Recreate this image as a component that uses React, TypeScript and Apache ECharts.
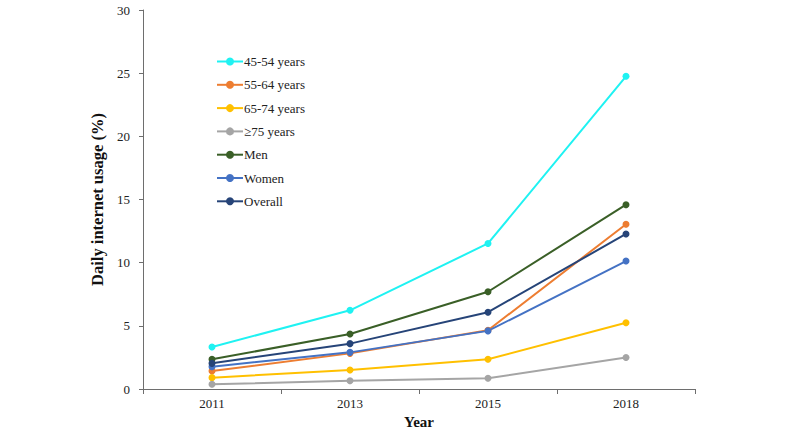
import React, { useEffect, useRef } from "react";
import * as echarts from "echarts";

const years = ["2011", "2013", "2015", "2018"];
const age4554 = [3.32, 6.23, 11.52, 24.75];
const age5564 = [1.42, 2.82, 4.65, 13.04];
const age6574 = [0.9, 1.5, 2.35, 5.25];
const age75 = [0.37, 0.66, 0.85, 2.5];
const men = [2.35, 4.35, 7.7, 14.59];
const women = [1.77, 2.9, 4.6, 10.13];
const overall = [2.03, 3.59, 6.08, 12.27];

const seriesDefs = [
  { name: "45-54 years", data: age4554, color: "#1FF2F2" },
  { name: "55-64 years", data: age5564, color: "#ED7D31" },
  { name: "65-74 years", data: age6574, color: "#FFC000" },
  { name: "≥75 years", data: age75, color: "#A5A5A5" },
  { name: "Men", data: men, color: "#3A5F27" },
  { name: "Women", data: women, color: "#4472C4" },
  { name: "Overall", data: overall, color: "#264478" },
];

const FONT = "'Liberation Serif', 'Times New Roman', serif";

export default function App() {
  const ref = useRef<HTMLDivElement>(null);
  useEffect(() => {
    if (!ref.current) return;
    const chart = echarts.init(ref.current, undefined, { renderer: "svg" });
    chart.setOption({
      animation: false,
      backgroundColor: "#ffffff",
      grid: { left: 143, top: 10, width: 552, height: 379 },
      legend: {
        orient: "vertical",
        left: 211,
        top: 50,
        itemWidth: 26,
        itemHeight: 10,
        itemGap: 10.3,
        textStyle: { fontFamily: FONT, fontSize: 13, color: "#222", padding: [0, 0, 0, -4] },
        data: seriesDefs.map((s) => s.name),
      },
      xAxis: {
        type: "category",
        data: years,
        boundaryGap: true,
        name: "Year",
        nameLocation: "middle",
        nameGap: 25,
        nameTextStyle: { fontFamily: FONT, fontSize: 15, fontWeight: "bold", color: "#111" },
        axisLine: { lineStyle: { color: "#6e6e6e", width: 1 } },
        axisTick: { show: true, length: 5, lineStyle: { color: "#6e6e6e" } },
        axisLabel: { fontFamily: FONT, fontSize: 13, color: "#222", margin: 8 },
        splitLine: { show: false },
      },
      yAxis: {
        type: "value",
        min: 0,
        max: 30,
        interval: 5,
        name: "Daily internet usage (%)",
        nameLocation: "middle",
        nameGap: 32,
        nameTextStyle: { fontFamily: FONT, fontSize: 16.5, fontWeight: "bold", color: "#111" },
        axisLine: { show: true, lineStyle: { color: "#6e6e6e", width: 1 } },
        axisTick: { show: true, length: 4, lineStyle: { color: "#6e6e6e" } },
        axisLabel: { fontFamily: FONT, fontSize: 13, color: "#222", margin: 13 },
        splitLine: { show: false },
      },
      series: seriesDefs.map((s) => ({
        name: s.name,
        type: "line",
        data: s.data,
        symbol: "circle",
        symbolSize: 7,
        color: s.color,
        lineStyle: { width: 2, color: s.color },
        itemStyle: { color: s.color },
      })),
    });
    return () => chart.dispose();
  }, []);
  return <div ref={ref} style={{ width: 800, height: 435, position: "absolute", left: 0, top: 0 }} />;
}
